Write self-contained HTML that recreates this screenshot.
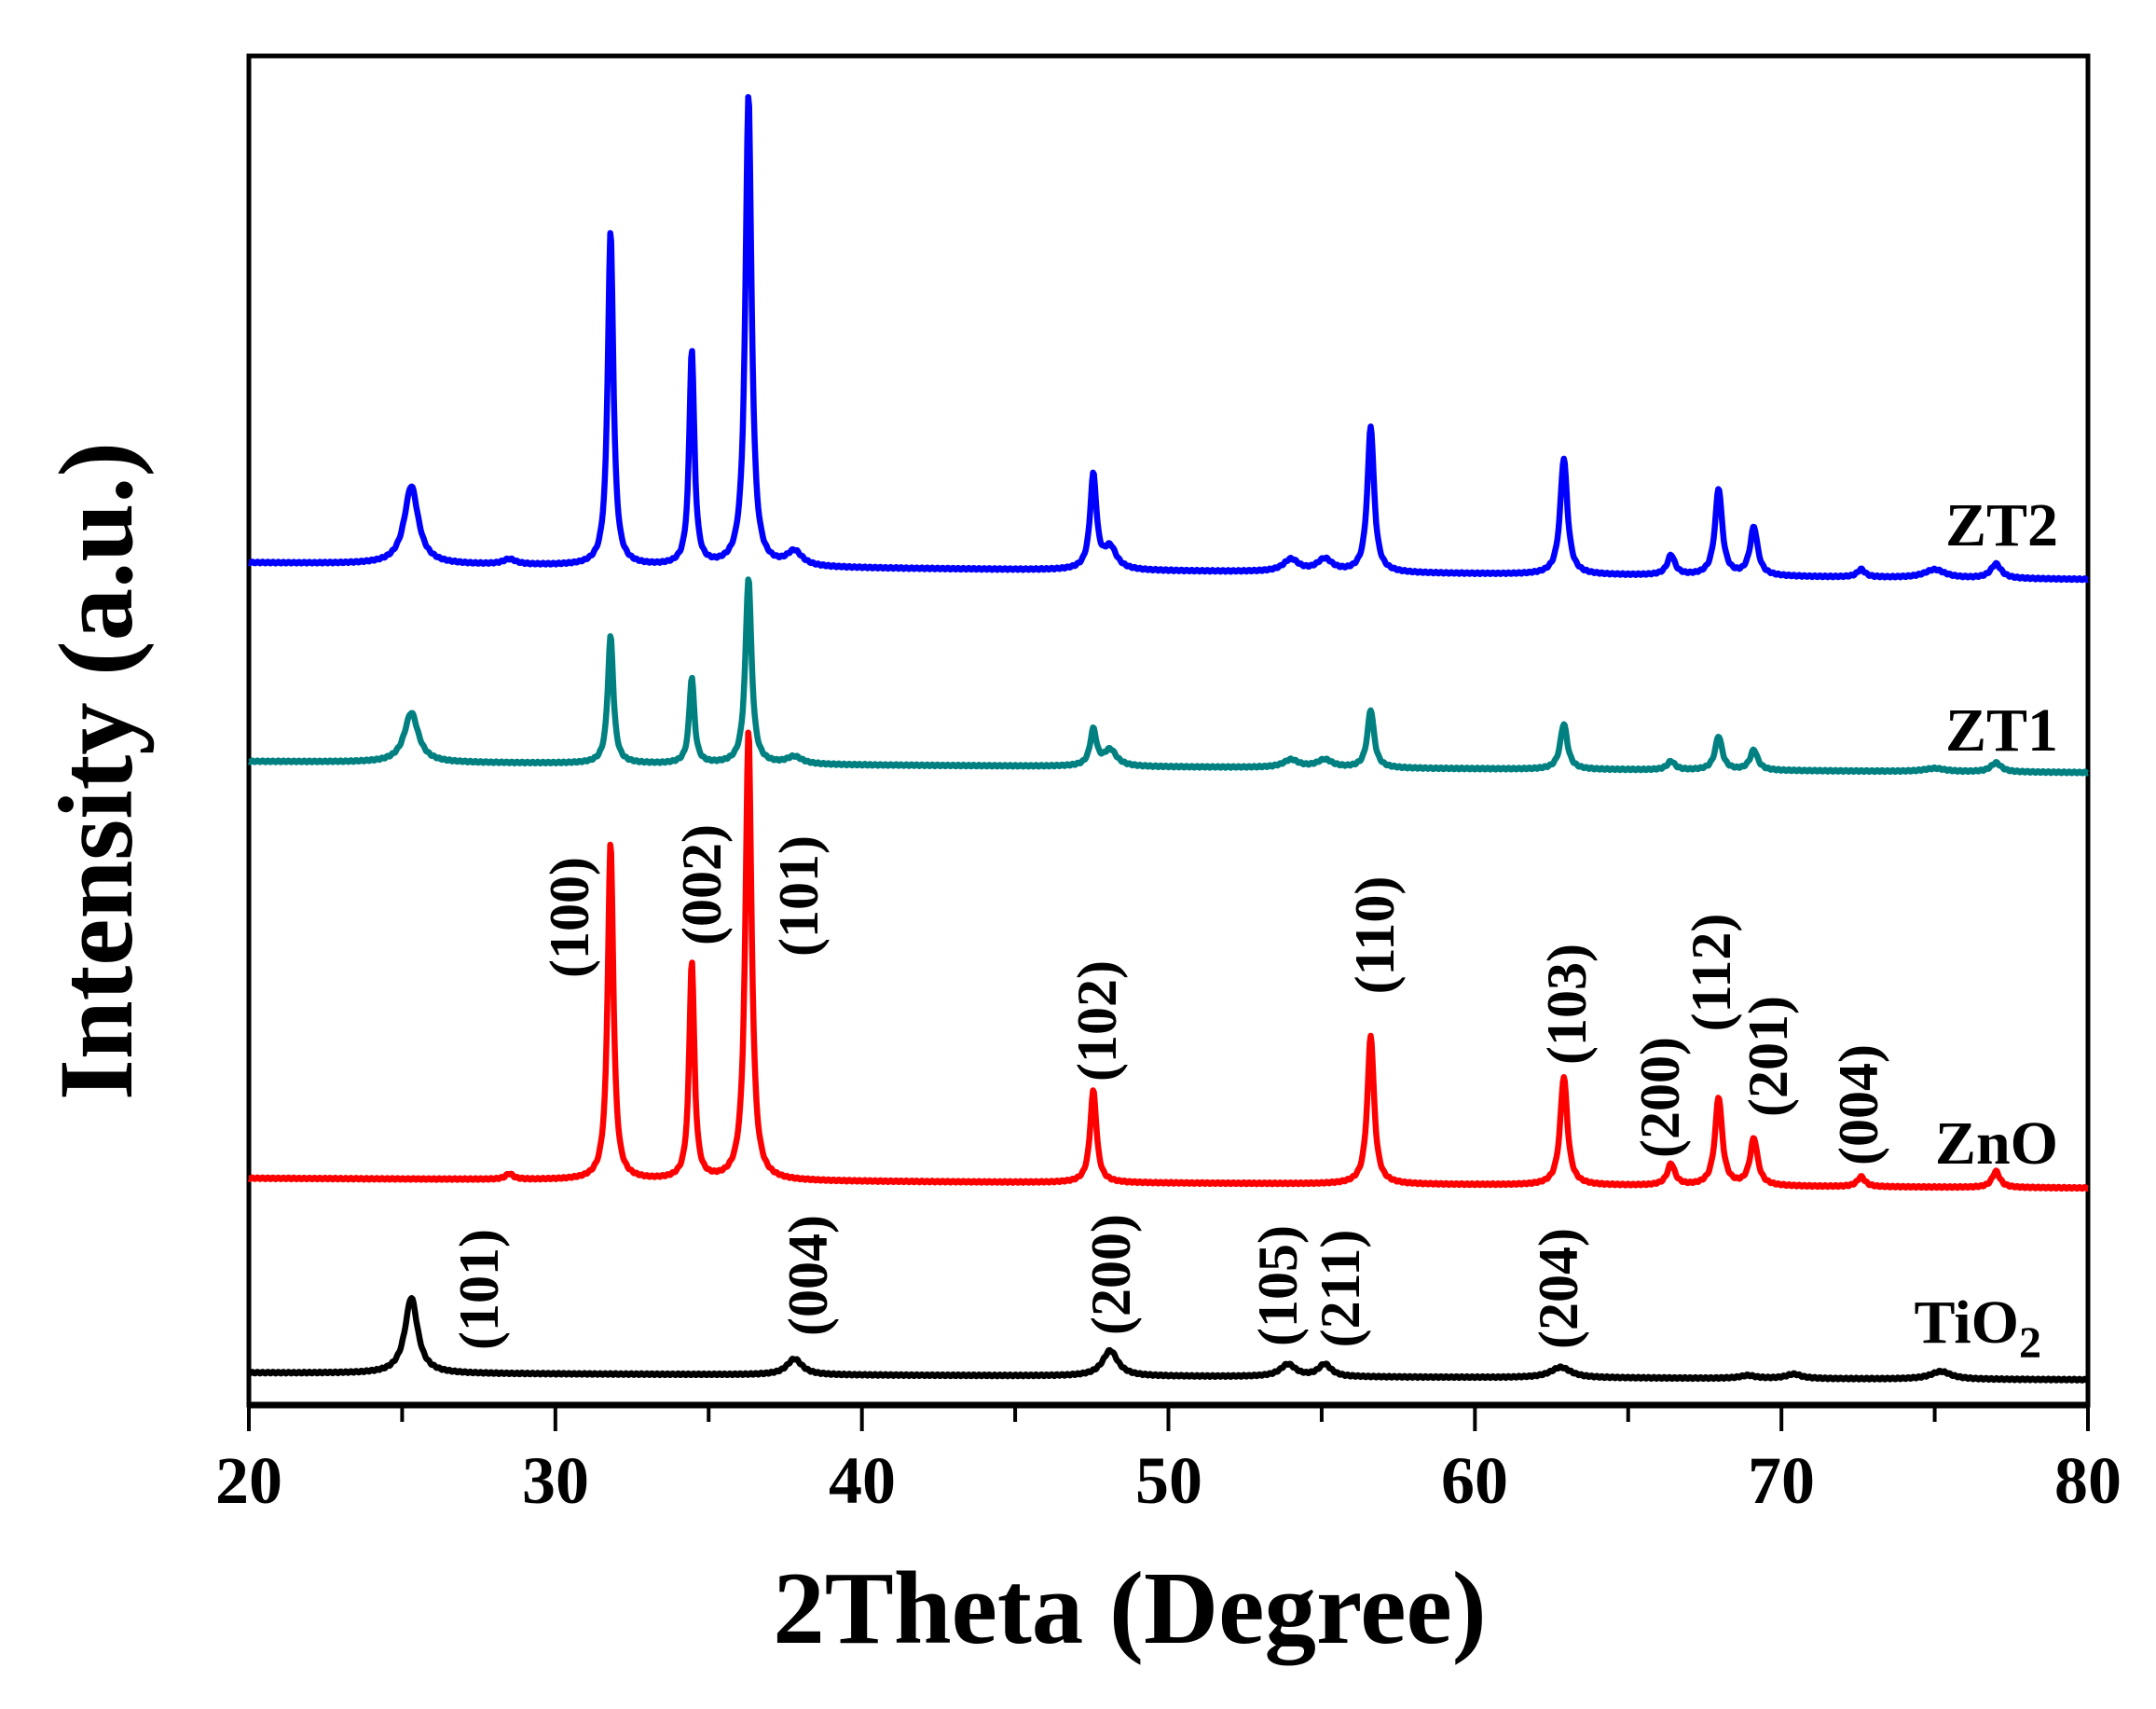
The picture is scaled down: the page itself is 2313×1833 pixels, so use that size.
<!DOCTYPE html>
<html><head><meta charset="utf-8"><style>
html,body{margin:0;padding:0;background:#fff}
svg{display:block}
text{font-family:"Liberation Serif",serif;font-weight:bold}
</style></head><body>
<svg id="s" width="2313" height="1833" viewBox="0 0 2313 1833" xmlns="http://www.w3.org/2000/svg">
<rect x="267" y="60" width="1973" height="1447" fill="none" stroke="#000" stroke-width="5"/>
<line x1="267" y1="1507" x2="2240" y2="1507" stroke="#000" stroke-width="7"/>
<g id="ticks" stroke="#000" stroke-width="4"></g>
<g id="series" fill="none" stroke-width="6.5" stroke-linejoin="round"></g>
<g font-size="72" text-anchor="middle">
<text x="267" y="1612">20</text><text x="596" y="1612">30</text><text x="925" y="1612">40</text>
<text x="1254" y="1612">50</text><text x="1582" y="1612">60</text><text x="1911" y="1612">70</text><text x="2240" y="1612">80</text>
</g>
<text x="1212" y="1762" font-size="111" text-anchor="middle">2Theta (Degree)</text>
<text transform="translate(141,827) rotate(-90)" font-size="113" text-anchor="middle">Intensity (a.u.)</text>
<g font-size="66" text-anchor="end">
<text x="2208" y="585">ZT2</text>
<text x="2208" y="805">ZT1</text>
<text x="2208" y="1248">ZnO</text>
<text x="2190" y="1440">TiO<tspan font-size="48" dy="16">2</tspan></text>
</g>
<g id="labels" font-size="60" text-anchor="middle"></g>
</svg>
<script>
(function(){
var NS="http://www.w3.org/2000/svg";
function X(d){return 267+(d-20)*1973/60;}
function el(name,attrs,parent){var e=document.createElementNS(NS,name);for(var k in attrs)e.setAttribute(k,attrs[k]);parent.appendChild(e);return e;}
var tk=document.getElementById("ticks");
for(var d=20;d<=80;d+=5){var L=(d%10==0)?28:18;el("line",{x1:X(d),y1:1507,x2:X(d),y2:1507+L},tk);}
var S=1.4903;
var series=[
["#000",988,993,[[25.3,934,0.5],[37.8,978,0.6],[48.1,972,0.6],[53.9,982,0.6],[55.1,982,0.5],[62.8,984,0.8],[68.9,990,0.6],[70.4,989,0.6],[75.2,987,0.8]]],
["#ff0000",848,855,[[28.5,845,0.3],[31.8,607,0.22],[34.45,693,0.2],[36.3,525,0.24],[47.55,785,0.25],[56.6,745,0.26],[62.9,775,0.28],[66.4,838,0.3],[67.95,790,0.28],[69.1,820,0.3],[72.6,847,0.3],[77.0,843,0.3]]],
["#008080",548,556,[[25.3,513,0.55],[31.8,458,0.22],[34.45,488,0.2],[36.3,416,0.24],[37.8,545,0.6],[47.55,526,0.25],[48.1,540,0.5],[54,547,0.6],[55.1,547,0.6],[56.6,511,0.26],[62.9,521,0.28],[66.4,548,0.3],[67.95,530,0.28],[69.1,540,0.3],[75,553,0.8],[77,549,0.4]]],
["#0000ff",405,417,[[25.3,350,0.55],[28.5,403,0.5],[31.8,167,0.22],[34.45,253,0.2],[36.3,68,0.24],[37.8,398,0.6],[47.55,343,0.25],[48.1,395,0.5],[54,403,0.6],[55.1,403,0.6],[56.6,307,0.26],[62.9,330,0.28],[66.4,400,0.3],[67.95,352,0.28],[69.1,380,0.3],[72.6,410,0.3],[75,410,0.8],[77,406,0.4]]]
];
var g=document.getElementById("series");
for(var i=0;i<series.length;i++){
 var s=series[i];var pts=[];
 for(var d2=20;d2<=80.001;d2+=0.03){
  var base=s[1]+(s[2]-s[1])*(d2-20)/60;
  var y=base;
  for(var j=0;j<s[3].length;j++){var p=s[3][j];var hgt=s[1]+(s[2]-s[1])*(p[0]-20)/60-p[1];var w=p[2]/2;var u=(d2-p[0])/w;y-=hgt/(1+u*u);}
  y+=Math.sin(d2*37.1)*0.6;
  pts.push(X(d2).toFixed(1)+","+(y*S).toFixed(1));
 }
 el("polyline",{stroke:s[0],points:pts.join(" ")},g);
}
var labs=[["(101)",345,928],["(004)",582,918],["(200)",800,917],["(105)",920,925],["(211)",965,927],["(204)",1122,927],
["(100)",410,660],["(002)",505,637],["(101)",575,645],["(102)",790,735],["(110)",990,673],["(103)",1128,723],["(200)",1195,790],["(112)",1232,700],["(201)",1273,760],["(004)",1338,795]];
var lg=document.getElementById("labels");
for(var k=0;k<labs.length;k++){var l=labs[k];var x=l[1]*S+20,yy=l[2]*S;
 var t=el("text",{transform:"translate("+x.toFixed(0)+","+yy.toFixed(0)+") rotate(-90)"},lg);t.textContent=l[0];}
})();
</script>
</body></html>
